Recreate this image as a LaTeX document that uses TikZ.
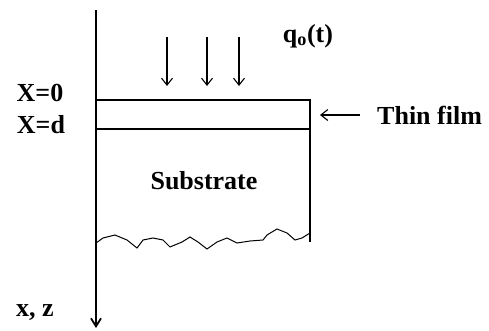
\documentclass[tikz,border=0pt]{standalone}
\usepackage{fontspec}
\setmainfont{Liberation Serif}
\usetikzlibrary{arrows.meta, positioning}

\begin{document}
\begin{tikzpicture}[x=1pt, y=-1pt,
      lbl/.style={font=\fontsize{26}{28}\selectfont\bfseries, inner sep=0pt},
      axis/.style={line width=1.8pt, -{Straight Barb[length=8pt, width=10pt]}},
      layer/.style={line width=1.3pt},
      arrow/.style={-{Straight Barb[length=7pt, width=11pt]}, line width=1.1pt}
    ]
    \useasboundingbox (0,0) rectangle (489,330);

    % depth axis
    \coordinate (top) at (96,10);
    \coordinate (bot) at (96,328);
    \draw[axis] (top) -- (bot);

    % film and substrate
    \coordinate (f0) at (96,100);
    \coordinate (fd) at (96,129);
    \coordinate (r0) at (310,100);
    \coordinate (rd) at (310,129);
    \coordinate (rb) at (310,242);
    \draw[layer] (f0) -- (r0) -- (rb);
    \draw[layer] (fd) -- (rd);
    \draw[line width=1pt] (96,243) -- (103,238) -- (115,235) -- (127,240) -- (137,248)
      -- (143,240) -- (153,238) -- (163,240) -- (170,247) -- (182,242) -- (190,237)
      -- (198,242) -- (207,249) -- (217,242) -- (227,238) -- (237,243) -- (250,241)
      -- (263,240) -- (267,235) -- (277,229) -- (287,233) -- (295,240) -- (302,238)
      -- (310,233);

    % heat flux
    \foreach \x [count=\i] in {167,207,239} {
      \coordinate (qa\i) at (\x,37);
      \coordinate (qb\i) at (\x,86);
      \draw[arrow] (qa\i) -- (qb\i);
    }
    \node[lbl] (flux) at (308,36) {q\textsubscript{o}(t)};

    % labels
    \node[lbl] (x0) at (40,93) {X=0};
    \node[lbl] (xd) at (41,125) {X=d};
    \node[lbl] (sub) at (204,181) {Substrate};
    \node[lbl] (xz) at (35,313) {x, z};
    \node[lbl, anchor=west] (film) at (377,115) {Thin film};
    \coordinate (filmtip) at (320,115);
    \draw[arrow, shorten <=17pt] (film.west) -- (filmtip);
  \end{tikzpicture}
\end{document}
